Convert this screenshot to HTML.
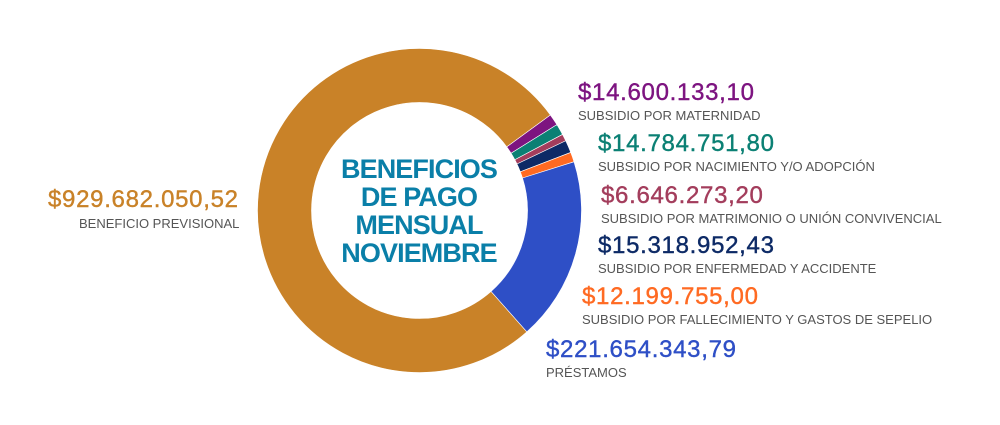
<!DOCTYPE html>
<html><head><meta charset="utf-8"><style>
html,body{margin:0;padding:0;background:#fff;width:1000px;height:425px;overflow:hidden;font-family:"Liberation Sans",sans-serif;}
.v{position:absolute;font-size:24px;white-space:nowrap;letter-spacing:0.7px;-webkit-text-stroke:0.4px currentColor}
.s{position:absolute;font-size:13px;color:#555;white-space:nowrap}
</style></head><body>
<svg width="1000" height="425" style="position:absolute;left:0;top:0">
<g id="d"></g>
<g font-family="Liberation Sans" font-weight="bold" font-size="27" fill="#0a7fa8" letter-spacing="-0.9" text-anchor="middle">
<text x="419" y="178">BENEFICIOS</text>
<text x="419" y="206">DE PAGO</text>
<text x="419" y="234">MENSUAL</text>
<text x="419" y="262">NOVIEMBRE</text>
</g>
</svg>
<div class="v" style="left:48px;top:186px;color:#c98228">$929.682.050,52</div>
<div class="s" style="left:79px;top:216px">BENEFICIO PREVISIONAL</div>
<div class="v" style="left:578px;top:79px;color:#7d1480">$14.600.133,10</div>
<div class="s" style="left:578px;top:108px">SUBSIDIO POR MATERNIDAD</div>
<div class="v" style="left:598px;top:130px;color:#0b8074">$14.784.751,80</div>
<div class="s" style="left:598px;top:159px">SUBSIDIO POR NACIMIENTO Y/O ADOPCIÓN</div>
<div class="v" style="left:601px;top:182px;color:#a33d5c">$6.646.273,20</div>
<div class="s" style="left:601px;top:211px">SUBSIDIO POR MATRIMONIO O UNIÓN CONVIVENCIAL</div>
<div class="v" style="left:598px;top:232px;color:#0d2a66">$15.318.952,43</div>
<div class="s" style="left:598px;top:261px">SUBSIDIO POR ENFERMEDAD Y ACCIDENTE</div>
<div class="v" style="left:582px;top:283px;color:#ff6a22">$12.199.755,00</div>
<div class="s" style="left:582px;top:312px">SUBSIDIO POR FALLECIMIENTO Y GASTOS DE SEPELIO</div>
<div class="v" style="left:546px;top:336px;color:#2e4fc6">$221.654.343,79</div>
<div class="s" style="left:546px;top:365px">PRÉSTAMOS</div>
<script>
var cx=419.5,cy=210.5,R=162,r=108;
function p(a,rad){a=a*Math.PI/180;return [cx+rad*Math.sin(a),cy-rad*Math.cos(a)];}
function arc(a0,a1,c){var l=(a1-a0)>180?1:0;var A=p(a0,R),B=p(a1,R),C=p(a1,r),D=p(a0,r);
return '<path d="M'+A+' A'+R+','+R+' 0 '+l+' 1 '+B+' L'+C+' A'+r+','+r+' 0 '+l+' 0 '+D+' Z" fill="'+c+'" stroke="#fff" stroke-width="0.6"/>';}
var s=[[138.5,413.9,'#c98228'],[53.9,58,'#7d1480'],[58,62,'#0b8074'],[62,64.5,'#a33d5c'],[64.5,69,'#0d2a66'],[69,72.5,'#ff6a22'],[72.5,138.5,'#2e4fc6']];
document.getElementById('d').innerHTML=s.map(function(x){return arc(x[0],x[1],x[2]);}).join('');
</script>
</body></html>
